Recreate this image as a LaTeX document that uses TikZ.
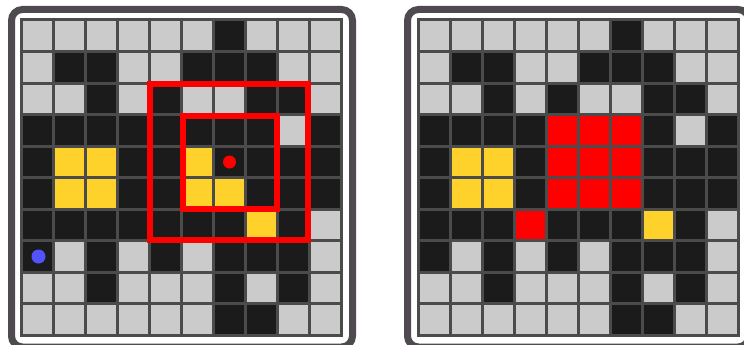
\documentclass[tikz,border=0pt]{standalone}
\usepackage{tikz}
\definecolor{framegray}{HTML}{4E4A50}
\definecolor{linegray}{HTML}{4B4B4B}
\definecolor{cellgray}{HTML}{CBCBCB}
\definecolor{cellblack}{HTML}{1B1B1B}
\definecolor{cellyellow}{HTML}{FED22B}
\definecolor{agentblue}{HTML}{5252FF}

\begin{document}
\begin{tikzpicture}[
    x=1pt, y=-1pt,
    frame/.style={draw=framegray, line width=7pt, rounded corners=11pt},
    gridbg/.style={fill=linegray},
    cellL/.style={fill=cellgray},
    cellB/.style={fill=cellblack},
    cellY/.style={fill=cellyellow},
    cellR/.style={fill=red},
    window/.style={draw=red, line width=6pt},
    agent/.style={circle, inner sep=0pt, minimum size=13pt}
]
\useasboundingbox (0,0) rectangle (744,345);
\clip (0,0) rectangle (744,345);
\draw[frame] (11.5,9.5) rectangle (352.5,347);
\draw[frame] (407.5,9.5) rectangle (749,347);
\foreach \bx in {21,418}{
  \fill[gridbg] (\bx-1.5,18.5) rectangle (\bx+321.5,336.5);
  \foreach \cells [count=\r from 0] in {
      {L,L,L,L,L,L,B,L,L,L},
      {L,B,B,L,L,B,B,B,L,L},
      {L,L,B,L,B,L,L,B,B,L},
      {B,B,B,B,B,B,B,B,L,B},
      {B,Y,Y,B,B,Y,B,B,B,B},
      {B,Y,Y,B,B,Y,Y,B,B,B},
      {B,B,B,B,B,B,B,Y,B,L},
      {B,L,B,L,B,L,B,B,B,L},
      {L,L,B,L,L,L,B,L,B,L},
      {L,L,L,L,L,L,B,B,L,L}}{
    \foreach \c [count=\col from 0] in \cells {
      \fill[cell\c] (\bx+\col*32+1.5,20+\r*31.5+1.5) rectangle ++(29,28.5);
    }
  }
}
\foreach \col/\r in {4/3,5/3,6/3,4/4,5/4,6/4,4/5,5/5,6/5,3/6}
  \fill[cellR] (418+\col*32+1.5,20+\r*31.5+1.5) rectangle ++(29,28.5);
\draw[window] (150,84) rectangle (308,240);
\draw[window] (183,116) rectangle (276.5,208.5);
\node[agent, fill=red] (goal) at (229.5,162) {};
\node[agent, fill=agentblue, minimum size=14pt] (start) at (38.5,256.5) {};
\end{tikzpicture}
\end{document}
